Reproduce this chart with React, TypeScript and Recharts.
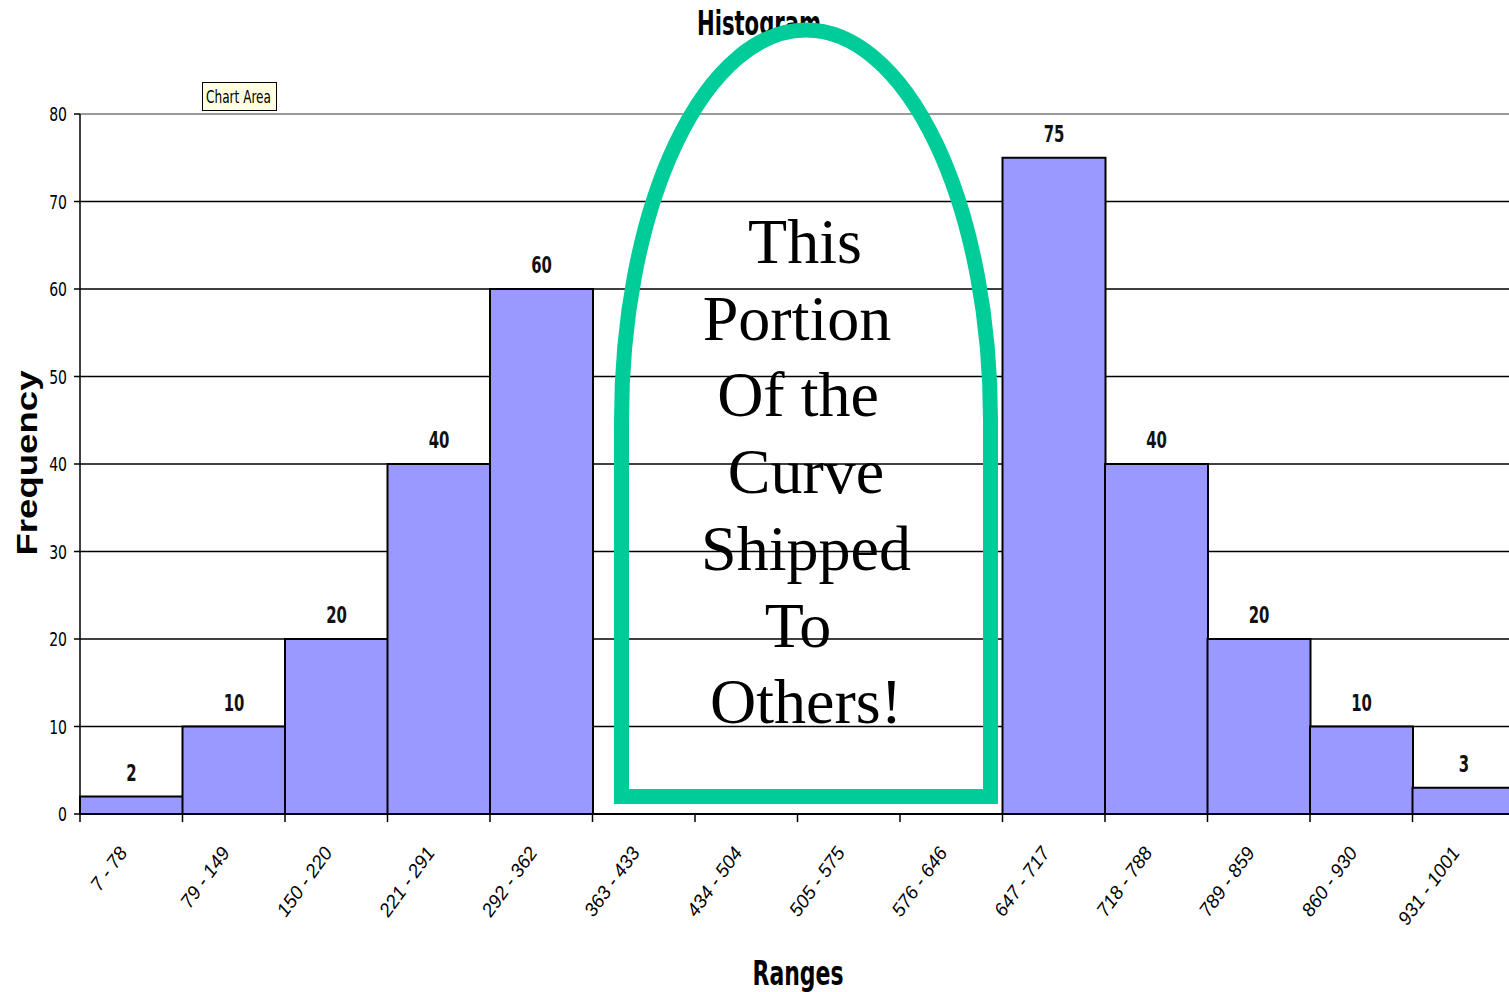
import { BarChart, Bar, XAxis, YAxis, CartesianGrid, LabelList } from 'recharts';

const ranges = [
  '7 - 78', '79 - 149', '150 - 220', '221 - 291', '292 - 362', '363 - 433', '434 - 504',
  '505 - 575', '576 - 646', '647 - 717', '718 - 788', '789 - 859', '860 - 930', '931 - 1001',
];
const frequency = [2, 10, 20, 40, 60, 0, 0, 0, 0, 75, 40, 20, 10, 3];
const yTicks = [0, 10, 20, 30, 40, 50, 60, 70, 80];
const noteLines = ['This', 'Portion', 'Of the', 'Curve', 'Shipped', 'To', 'Others!'];
const noteShift = [2, -6, -5, 3, 3, -5, 3];

const data = ranges.map((range, i) => ({ range, frequency: frequency[i] }));

const CHART_W = 1525;
const CHART_H = 992;
const MARGIN = { top: 114, right: 10, bottom: 0, left: 0 };
const Y_AXIS_W = 80;
const X_AXIS_H = 178;
const BAND = (CHART_W - MARGIN.left - MARGIN.right - Y_AXIS_W) / ranges.length;

const NARROW = '"Liberation Sans Narrow", "Arial Narrow", "DejaVu Sans Condensed", sans-serif';
const ARIAL = '"Liberation Sans", Arial, sans-serif';
const SERIF = '"Liberation Serif", "Times New Roman", serif';

const RangeTick = (props: any) => {
  const { x, y, payload } = props;
  const ax = x - 3;
  const ay = y + 31;
  return (
    <g>
      <line x1={x - BAND / 2} y1={y - 8} x2={x - BAND / 2} y2={y} stroke="#000" strokeWidth={1.5} />
      <text
        x={ax}
        y={ay}
        textAnchor="end"
        fontSize={19}
        fontStyle="italic"
        fontFamily={ARIAL}
        fill="#000"
        transform={`rotate(-54, ${ax}, ${ay})`}
      >
        {payload.value}
      </text>
    </g>
  );
};

const CountTick = (props: any) => {
  const { x, y, payload } = props;
  return (
    <text
      x={0}
      y={0}
      textAnchor="end"
      fontSize={20}
      fontFamily={NARROW}
      fill="#000"
      transform={`translate(${x - 2}, ${y + 7}) scale(0.78, 1)`}
    >
      {payload.value}
    </text>
  );
};

const ValueLabel = (props: any) => {
  const { x, y, width, value } = props;
  const cx = x + width / 2;
  return (
    <text
      x={0}
      y={0}
      textAnchor="middle"
      fontSize={23}
      fontWeight="bold"
      fontFamily={NARROW}
      fill="#111"
      transform={`translate(${cx}, ${y - 16}) scale(0.72, 1)`}
    >
      {value}
    </text>
  );
};

const gridLine = (props: any) => {
  const { x1, y1, x2, y2, index } = props;
  const top = y1 <= MARGIN.top + 1;
  return (
    <line
      key={`g-${index}`}
      x1={x1}
      y1={y1}
      x2={x2}
      y2={y2}
      stroke={top ? '#9a9a9a' : '#000'}
      strokeWidth={top ? 2 : 1.5}
    />
  );
};

export default function App() {
  return (
    <div
      style={{
        position: 'absolute',
        left: 0,
        top: 0,
        width: 1509,
        height: CHART_H,
        overflow: 'hidden',
        background: '#fff',
      }}
    >
      <BarChart
        width={CHART_W}
        height={CHART_H}
        data={data}
        margin={MARGIN}
        barCategoryGap={0}
        barGap={0}
      >
        <CartesianGrid vertical={false} horizontal={gridLine} />
        <YAxis
          width={Y_AXIS_W}
          domain={[0, 80]}
          ticks={yTicks}
          interval={0}
          axisLine={{ stroke: '#000', strokeWidth: 1.5 }}
          tickLine={{ stroke: '#000', strokeWidth: 1.5 }}
          tickSize={6}
          tickMargin={5}
          tick={<CountTick />}
        />
        <XAxis
          dataKey="range"
          height={X_AXIS_H}
          interval={0}
          axisLine={{ stroke: '#000', strokeWidth: 2 }}
          tickLine={false}
          tick={<RangeTick />}
        />
        <Bar
          dataKey="frequency"
          fill="#9999FF"
          stroke="#000"
          strokeWidth={2}
          isAnimationActive={false}
        >
          <LabelList dataKey="frequency" content={<ValueLabel />} />
        </Bar>
      </BarChart>

      <svg
        width={1509}
        height={CHART_H}
        style={{ position: 'absolute', left: 0, top: 0, pointerEvents: 'none' }}
      >
        <text
          x={697}
          y={35}
          fontSize={34}
          fontWeight="bold"
          fontFamily={NARROW}
          textLength={124}
          lengthAdjust="spacingAndGlyphs"
          fill="#000"
        >
          Histogram
        </text>
        <text
          x={798}
          y={985}
          textAnchor="middle"
          fontSize={34}
          fontWeight="bold"
          fontFamily={NARROW}
          textLength={91}
          lengthAdjust="spacingAndGlyphs"
          fill="#000"
        >
          Ranges
        </text>
        <text
          x={37}
          y={463}
          textAnchor="middle"
          fontSize={30}
          fontWeight="bold"
          fontFamily={ARIAL}
          textLength={185}
          lengthAdjust="spacingAndGlyphs"
          fill="#000"
          transform="rotate(-90, 37, 463)"
        >
          Frequency
        </text>

        <rect x={202.5} y={82.5} width={74} height={28} fill="#FFFFE1" stroke="#000" strokeWidth={1} />
        <text x={206} y={103} fontSize={17} fontFamily={NARROW} fill="#000" textLength={65} lengthAdjust="spacingAndGlyphs">
          Chart Area
        </text>

        <path
          d="M 621.5 796.5 L 621.5 420 A 184.5 390 0 0 1 990.5 420 L 990.5 796.5 Z"
          fill="none"
          stroke="#00CC99"
          strokeWidth={15}
        />
        {noteLines.map((line, i) => (
          <text
            key={line}
            x={803 + noteShift[i]}
            y={263 + i * 76.7}
            textAnchor="middle"
            fontSize={64}
            fontFamily={SERIF}
            fill="#000"
          >
            {line}
          </text>
        ))}
      </svg>
    </div>
  );
}
